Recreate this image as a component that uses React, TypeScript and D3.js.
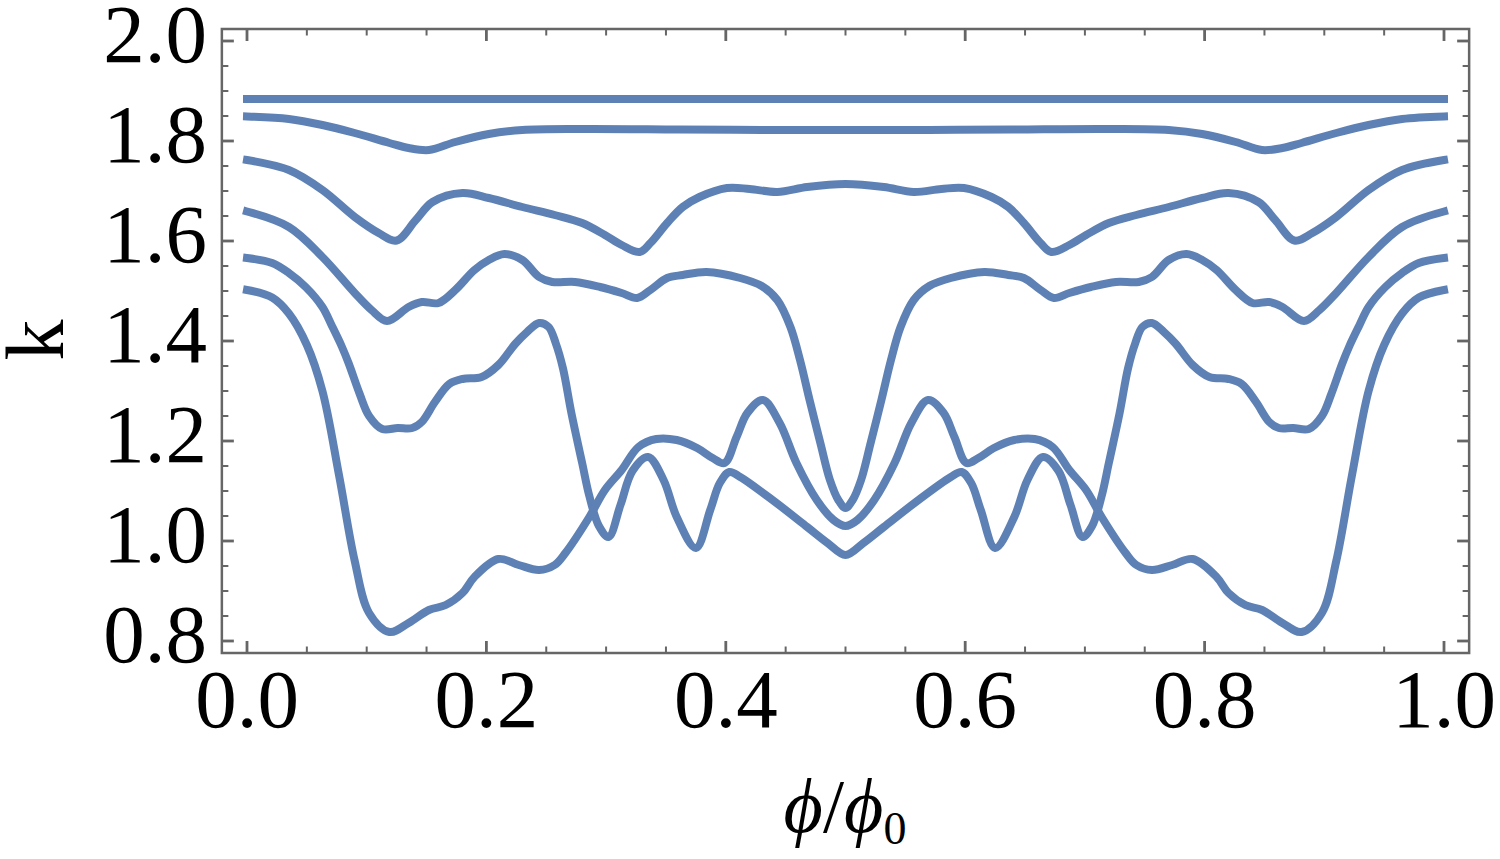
import React from "react";
import * as d3 from "d3";

// k(phi/phi0) bands
const band1: [number, number][] = [
  [0, 1.884], [1, 1.884],
];

const band2: [number, number][] = [
  [0, 1.849], [0.035, 1.844], [0.063, 1.832], [0.09, 1.816], [0.119, 1.796], [0.135, 1.786],
  [0.152, 1.782], [0.174, 1.798], [0.202, 1.814], [0.23, 1.822], [0.28, 1.824], [0.36, 1.823],
  [0.43, 1.822], [0.5, 1.822], [0.57, 1.822], [0.64, 1.823], [0.72, 1.824], [0.77, 1.822],
  [0.798, 1.814], [0.826, 1.798], [0.848, 1.782], [0.865, 1.786], [0.881, 1.796], [0.91, 1.816],
  [0.937, 1.832], [0.965, 1.844], [1, 1.849],
];

const band3: [number, number][] = [
  [0, 1.762], [0.035, 1.742], [0.063, 1.702], [0.09, 1.648], [0.11, 1.616], [0.125, 1.601],
  [0.141, 1.642], [0.155, 1.678], [0.18, 1.696], [0.202, 1.686], [0.23, 1.668], [0.257, 1.652],
  [0.28, 1.636], [0.299, 1.612], [0.313, 1.592], [0.328, 1.578], [0.337, 1.596], [0.351, 1.636],
  [0.364, 1.668], [0.378, 1.688], [0.401, 1.706], [0.42, 1.704], [0.443, 1.698], [0.468, 1.708],
  [0.5, 1.714], [0.532, 1.708], [0.557, 1.698], [0.58, 1.704], [0.599, 1.706], [0.622, 1.688],
  [0.636, 1.668], [0.649, 1.636], [0.663, 1.596], [0.672, 1.578], [0.687, 1.592], [0.701, 1.612],
  [0.72, 1.636], [0.743, 1.652], [0.77, 1.668], [0.798, 1.686], [0.82, 1.696], [0.845, 1.678],
  [0.859, 1.642], [0.875, 1.601], [0.89, 1.616], [0.91, 1.648], [0.937, 1.702], [0.965, 1.742],
  [1, 1.762],
];

const band4: [number, number][] = [
  [0, 1.659], [0.035, 1.628], [0.063, 1.568], [0.09, 1.496], [0.104, 1.462], [0.117, 1.44],
  [0.135, 1.468], [0.146, 1.478], [0.16, 1.476], [0.174, 1.502], [0.19, 1.542], [0.202, 1.562],
  [0.215, 1.574], [0.23, 1.562], [0.244, 1.528], [0.255, 1.518], [0.274, 1.518], [0.295, 1.508],
  [0.313, 1.496], [0.326, 1.486], [0.337, 1.502], [0.351, 1.526], [0.364, 1.532], [0.384, 1.538],
  [0.412, 1.526], [0.43, 1.51], [0.443, 1.482], [0.454, 1.428], [0.462, 1.362], [0.47, 1.282],
  [0.479, 1.196], [0.487, 1.122], [0.494, 1.082], [0.5, 1.066], [0.506, 1.082], [0.513, 1.122],
  [0.521, 1.196], [0.53, 1.282], [0.538, 1.362], [0.546, 1.428], [0.557, 1.482], [0.57, 1.51],
  [0.588, 1.526], [0.616, 1.538], [0.636, 1.532], [0.649, 1.526], [0.663, 1.502], [0.674, 1.486],
  [0.687, 1.496], [0.705, 1.508], [0.726, 1.518], [0.745, 1.518], [0.756, 1.528], [0.77, 1.562],
  [0.785, 1.574], [0.798, 1.562], [0.81, 1.542], [0.826, 1.502], [0.84, 1.476], [0.854, 1.478],
  [0.865, 1.468], [0.883, 1.44], [0.896, 1.462], [0.91, 1.496], [0.937, 1.568], [0.965, 1.628],
  [1, 1.659],
];

const band5: [number, number][] = [
  [0, 1.566], [0.021, 1.556], [0.035, 1.536], [0.049, 1.508], [0.063, 1.468], [0.071, 1.43],
  [0.079, 1.39], [0.085, 1.355], [0.094, 1.295], [0.102, 1.25], [0.113, 1.224], [0.126, 1.226],
  [0.138, 1.226], [0.146, 1.238], [0.157, 1.278], [0.169, 1.314], [0.18, 1.324], [0.196, 1.328],
  [0.21, 1.352], [0.224, 1.394], [0.234, 1.418], [0.244, 1.436], [0.252, 1.428], [0.258, 1.395],
  [0.264, 1.345], [0.271, 1.256], [0.28, 1.156], [0.286, 1.09], [0.294, 1.03], [0.302, 1.008],
  [0.312, 1.072], [0.322, 1.14], [0.335, 1.168], [0.348, 1.122], [0.359, 1.048], [0.375, 0.986],
  [0.387, 1.062], [0.395, 1.116], [0.403, 1.138], [0.412, 1.128], [0.439, 1.082], [0.468, 1.028],
  [0.485, 0.996], [0.5, 0.972], [0.515, 0.996], [0.532, 1.028], [0.561, 1.082], [0.588, 1.128],
  [0.597, 1.138], [0.605, 1.116], [0.613, 1.062], [0.625, 0.986], [0.641, 1.048], [0.652, 1.122],
  [0.665, 1.168], [0.678, 1.14], [0.688, 1.072], [0.698, 1.008], [0.706, 1.03], [0.714, 1.09],
  [0.72, 1.156], [0.729, 1.256], [0.736, 1.345], [0.742, 1.395], [0.748, 1.428], [0.756, 1.436],
  [0.766, 1.418], [0.776, 1.394], [0.79, 1.352], [0.804, 1.328], [0.82, 1.324], [0.831, 1.314],
  [0.843, 1.278], [0.854, 1.238], [0.862, 1.226], [0.874, 1.226], [0.887, 1.224], [0.898, 1.25],
  [0.906, 1.295], [0.915, 1.355], [0.921, 1.39], [0.929, 1.43], [0.937, 1.468], [0.951, 1.508],
  [0.965, 1.536], [0.979, 1.556], [1, 1.566],
];

const band6: [number, number][] = [
  [0, 1.502], [0.021, 1.487], [0.035, 1.455], [0.05, 1.392], [0.063, 1.3], [0.077, 1.13],
  [0.09, 0.96], [0.102, 0.856], [0.119, 0.818], [0.135, 0.836], [0.152, 0.862], [0.166, 0.872],
  [0.18, 0.896], [0.19, 0.928], [0.21, 0.964], [0.227, 0.952], [0.244, 0.942], [0.257, 0.952],
  [0.266, 0.976], [0.286, 1.048], [0.299, 1.102], [0.313, 1.142], [0.327, 1.188], [0.342, 1.204],
  [0.359, 1.202], [0.376, 1.186], [0.389, 1.166], [0.399, 1.156], [0.409, 1.208], [0.418, 1.256],
  [0.431, 1.282], [0.445, 1.236], [0.459, 1.156], [0.476, 1.082], [0.49, 1.042], [0.5, 1.03],
  [0.51, 1.042], [0.524, 1.082], [0.541, 1.156], [0.555, 1.236], [0.569, 1.282], [0.582, 1.256],
  [0.591, 1.208], [0.601, 1.156], [0.611, 1.166], [0.624, 1.186], [0.641, 1.202], [0.658, 1.204],
  [0.673, 1.188], [0.687, 1.142], [0.701, 1.102], [0.714, 1.048], [0.734, 0.976], [0.743, 0.952],
  [0.756, 0.942], [0.773, 0.952], [0.79, 0.964], [0.81, 0.928], [0.82, 0.896], [0.834, 0.872],
  [0.848, 0.862], [0.865, 0.836], [0.881, 0.818], [0.898, 0.856], [0.91, 0.96], [0.923, 1.13],
  [0.937, 1.3], [0.95, 1.392], [0.965, 1.455], [0.979, 1.487], [1, 1.502],
];

const bands = [band1, band2, band3, band4, band5, band6];

const xTickValues = [0, 0.2, 0.4, 0.6, 0.8, 1.0];
const yTickValues = [0.8, 1.0, 1.2, 1.4, 1.6, 1.8, 2.0];

const W = 1500;
const H = 859;
const lineColor = "#5e81b5";
const frameColor = "#666666";
const font = "'Liberation Serif', 'Times New Roman', serif";

const App: React.FC = () => {
  // Set up scales (frame extends slightly past the data range, Mathematica style)
  const xScale = d3.scaleLinear().domain([0, 1]).range([247, 1444]);
  const yScale = d3.scaleLinear().domain([0.8, 2.0]).range([641, 41]);
  const xPad = 0.021;
  const yPad = 0.024;

  const left = xScale(-xPad);
  const right = xScale(1 + xPad);
  const top = yScale(2.0 + yPad);
  const bottom = yScale(0.8 - yPad);

  const xMinor = d3.range(0, 1.0001, 0.05).filter((v) => Math.abs(v * 5 - Math.round(v * 5)) > 1e-6);
  const yMinor = d3.range(0.8, 2.0001, 0.05).filter((v) => Math.abs(v * 5 - Math.round(v * 5)) > 1e-6);

  const line = d3
    .line<[number, number]>()
    .x((d) => xScale(d[0]))
    .y((d) => yScale(d[1]))
    .curve(d3.curveCatmullRom.alpha(0.5));

  const fmt = d3.format(".1f");
  const majorLen = 12;
  const minorLen = 6.5;

  return (
    <svg width={W} height={H} style={{ position: "absolute", left: 0, top: 0 }}>
      <rect x={0} y={0} width={W} height={H} fill="white" />

      {/* data curves */}
      <g fill="none" stroke={lineColor} strokeWidth={8} strokeLinecap="square" strokeLinejoin="round">
        {bands.map((b, i) => (
          <path key={i} d={line(b) || ""} />
        ))}
      </g>

      {/* frame */}
      <rect x={left} y={top} width={right - left} height={bottom - top} fill="none" stroke={frameColor} strokeWidth={2.5} />

      {/* ticks on all four sides */}
      <g stroke={frameColor}>
        {xTickValues.map((v) => (
          <g key={"xm" + v} strokeWidth={2.8}>
            <line x1={xScale(v)} x2={xScale(v)} y1={bottom} y2={bottom - majorLen} />
            <line x1={xScale(v)} x2={xScale(v)} y1={top} y2={top + majorLen} />
          </g>
        ))}
        {xMinor.map((v) => (
          <g key={"xn" + v} strokeWidth={2}>
            <line x1={xScale(v)} x2={xScale(v)} y1={bottom} y2={bottom - minorLen} />
            <line x1={xScale(v)} x2={xScale(v)} y1={top} y2={top + minorLen} />
          </g>
        ))}
        {yTickValues.map((v) => (
          <g key={"ym" + v} strokeWidth={2.8}>
            <line x1={left} x2={left + majorLen} y1={yScale(v)} y2={yScale(v)} />
            <line x1={right} x2={right - majorLen} y1={yScale(v)} y2={yScale(v)} />
          </g>
        ))}
        {yMinor.map((v) => (
          <g key={"yn" + v} strokeWidth={2}>
            <line x1={left} x2={left + minorLen} y1={yScale(v)} y2={yScale(v)} />
            <line x1={right} x2={right - minorLen} y1={yScale(v)} y2={yScale(v)} />
          </g>
        ))}
      </g>

      {/* tick labels */}
      <g fontFamily={font} fontSize={83} fill="black">
        {xTickValues.map((v) => (
          <text key={"xl" + v} x={xScale(v)} y={727} textAnchor="middle">
            {fmt(v)}
          </text>
        ))}
        {yTickValues.map((v) => (
          <text key={"yl" + v} x={207} y={yScale(v) + 21} textAnchor="end">
            {fmt(v)}
          </text>
        ))}
      </g>

      {/* axis labels */}
      <text transform="translate(63,340) rotate(-90)" textAnchor="middle" fontFamily={font} fontSize={82}>
        k
      </text>
      <text x={845} y={832} textAnchor="middle" fontFamily={font} fontSize={76}>
        <tspan fontStyle="italic">ϕ</tspan>
        <tspan>/</tspan>
        <tspan fontStyle="italic">ϕ</tspan>
        <tspan fontSize={46} dy={12}>0</tspan>
      </text>
    </svg>
  );
};

export default App;
